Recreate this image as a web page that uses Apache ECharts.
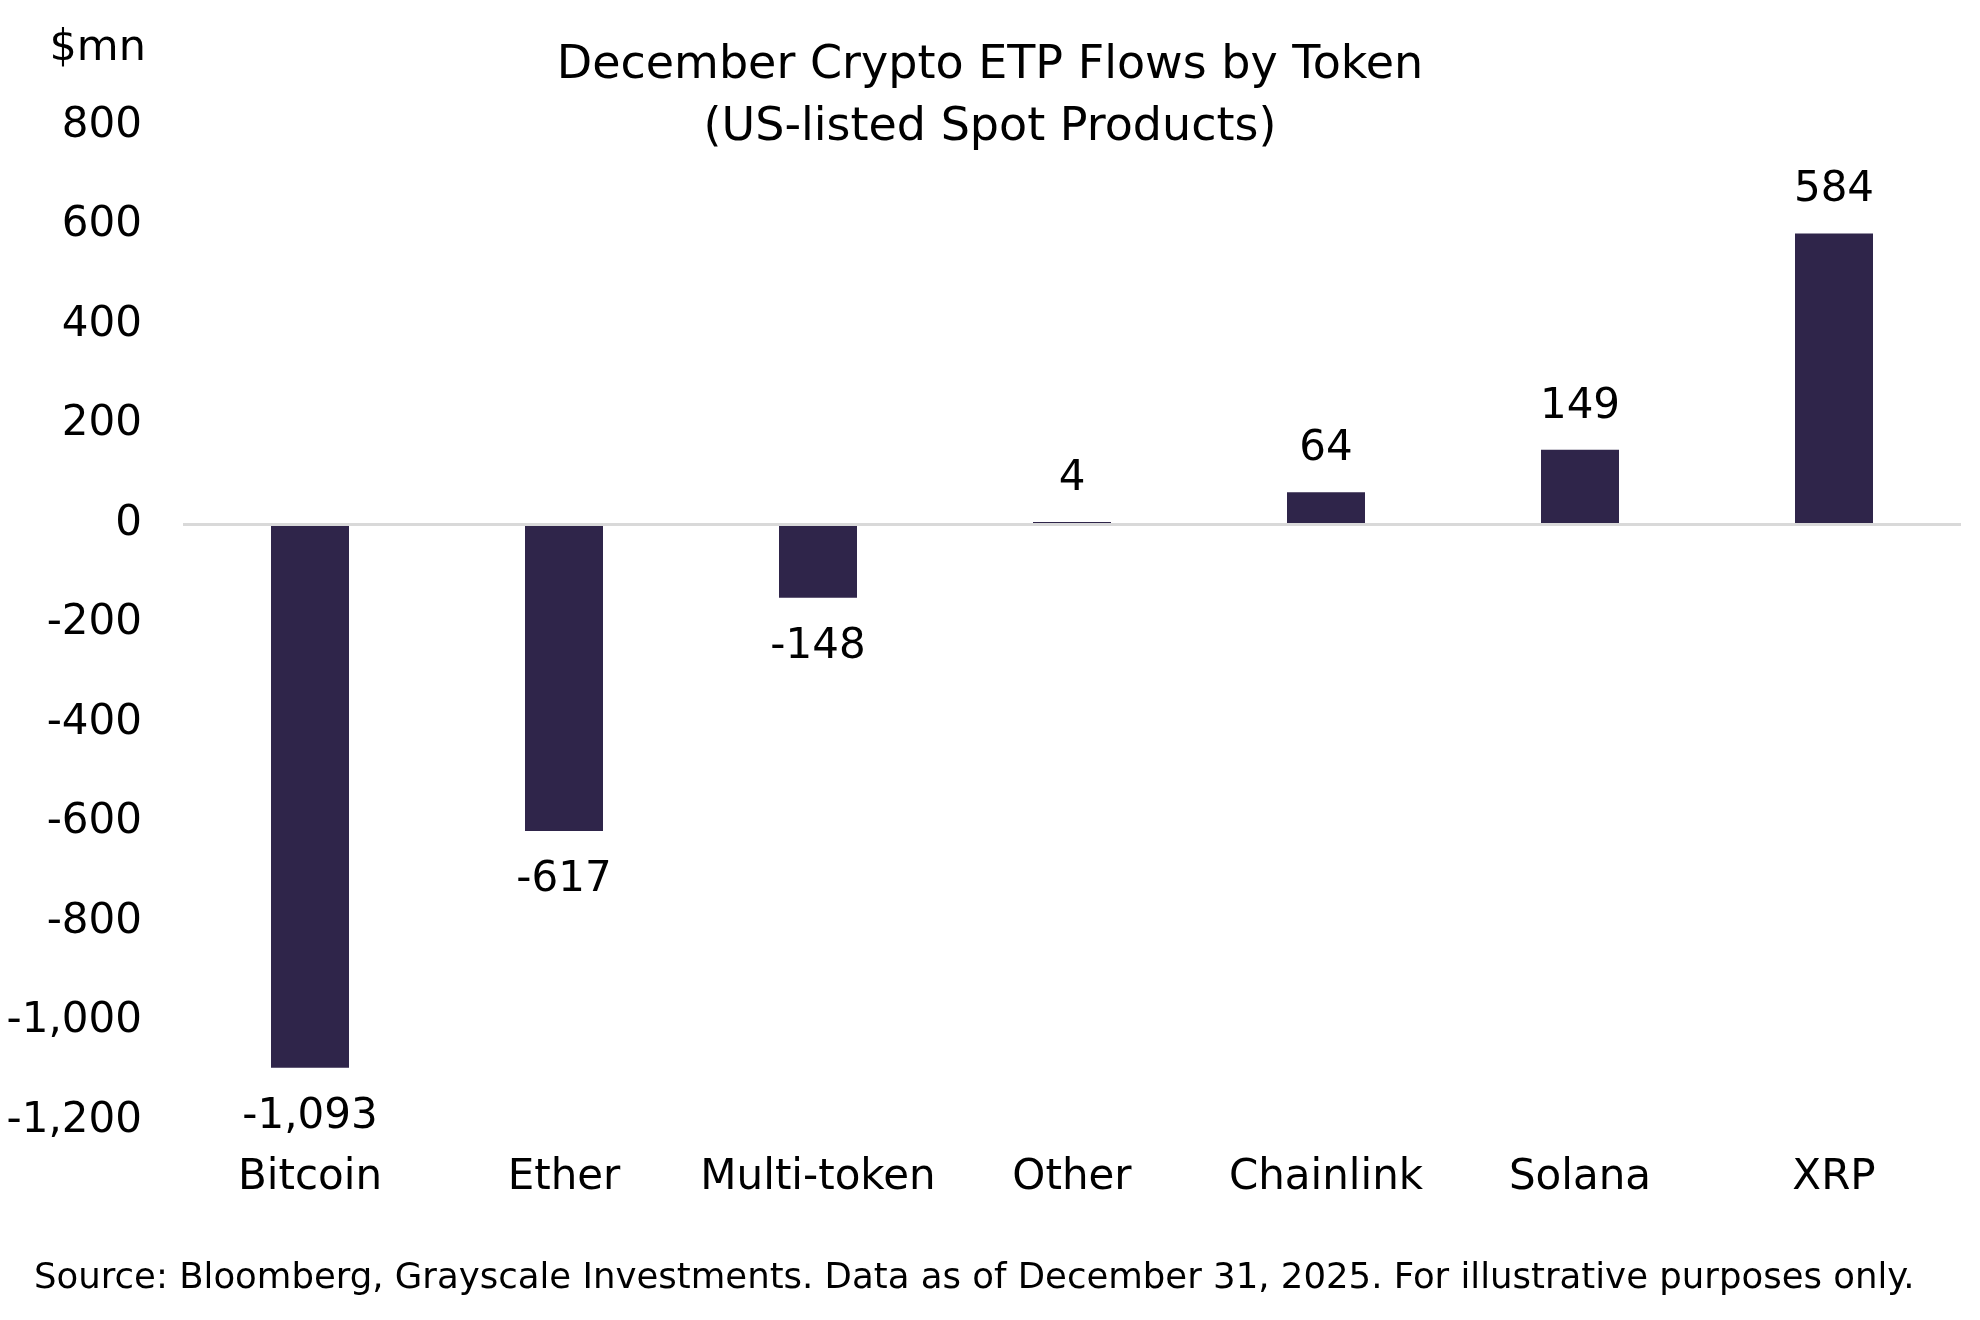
<!DOCTYPE html>
<html>
<head>
<meta charset="utf-8">
<script src="https://cdn.jsdelivr.net/npm/echarts@6/dist/echarts.min.js"></script>
<style>
html,body{margin:0;padding:0;background:#fff;}
#chart{width:1980px;height:1320px;}
</style>
</head>
<body>
<div id="chart"></div>
<script>
const categories = ['Bitcoin', 'Ether', 'Multi-token', 'Other', 'Chainlink', 'Solana', 'XRP'];
const flows = [-1093, -617, -148, 4, 64, 149, 584];
const yTicks = { min: -1200, max: 800, interval: 200 };
const titleLines = ['December Crypto ETP Flows by Token', '(US-listed Spot Products)'];
const unitLabel = '$mn';
const sourceText = 'Source: Bloomberg, Grayscale Investments. Data as of December 31, 2025. For illustrative purposes only.';

const FONT = 'DejaVu Sans';
const fmt = v => {
  const s = Math.abs(v).toLocaleString('en-US');
  return (v < 0 ? '-' : '') + s;
};

const chart = echarts.init(document.getElementById('chart'));
chart.setOption({
  backgroundColor: '#ffffff',
  animation: false,
  textStyle: { fontFamily: FONT, color: '#000' },
  title: {
    text: titleLines.join('\n'),
    left: 'center',
    top: 30,
    textStyle: { fontFamily: FONT, fontSize: 46, fontWeight: 'normal', color: '#000', lineHeight: 62 }
  },
  graphic: [
    { type: 'text', right: 1980 - 146, top: 27,
      style: { text: unitLabel, font: '43px "DejaVu Sans"', fill: '#000', textAlign: 'right' } },
    { type: 'text', left: 34, top: 1261,
      style: { text: sourceText, font: '35.5px "DejaVu Sans"', fill: '#000' } }
  ],
  grid: { left: 183, right: 19, top: 126, bottom: 199, containLabel: false },
  xAxis: {
    type: 'category',
    data: categories,
    position: 'bottom',
    axisLine: { show: false, onZero: false },
    axisTick: { show: false },
    axisLabel: { fontFamily: FONT, fontSize: 42, color: '#000', margin: 36, interval: 0 }
  },
  yAxis: {
    type: 'value',
    min: yTicks.min, max: yTicks.max, interval: yTicks.interval,
    axisLine: { show: false },
    axisTick: { show: false },
    splitLine: { show: false },
    axisLabel: { fontFamily: FONT, fontSize: 42, color: '#000', margin: 41, formatter: v => fmt(v) }
  },
  series: [{
    type: 'bar',
    data: flows.map(v => ({
      value: v,
      label: { position: v < 0 ? 'bottom' : 'top', distance: v < 0 ? 28 : 22 }
    })),
    barWidth: 78,
    itemStyle: { color: '#2f254a' },
    label: {
      show: true,
      fontFamily: FONT, fontSize: 42, color: '#000',
      formatter: p => fmt(p.value)
    },
    markLine: {
      silent: true,
      symbol: 'none',
      z: 10,
      label: { show: false },
      lineStyle: { color: '#d9d9d9', width: 3, type: 'solid' },
      data: [{ yAxis: 0 }]
    }
  }]
});
</script>
</body>
</html>
